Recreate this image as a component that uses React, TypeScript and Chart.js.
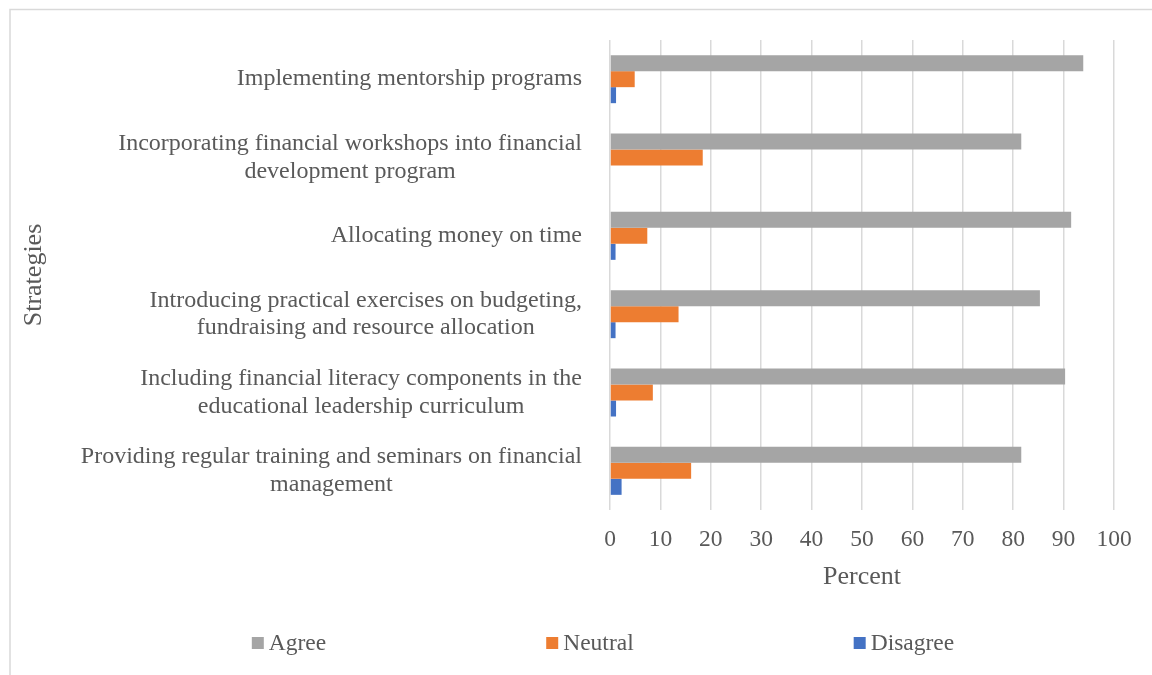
import React, { useEffect, useRef } from "react";
import { Chart, registerables } from "chart.js";

Chart.register(...registerables);

const categories: string[][] = [
  ["Implementing mentorship programs"],
  ["Incorporating financial workshops into financial", "development program"],
  ["Allocating money on time"],
  ["Introducing practical exercises on budgeting,", "fundraising and resource allocation"],
  ["Including financial literacy components in the", "educational leadership curriculum"],
  ["Providing regular training and seminars on financial", "management"],
];
const seriesNames = ["Agree", "Neutral", "Disagree"];
const agree = [93.9, 81.6, 91.5, 85.3, 90.3, 81.6];
const neutral = [4.9, 18.4, 7.4, 13.6, 8.5, 16.1];
const disagree = [1.2, 0, 1.1, 1.1, 1.2, 2.3];
const xTicks = [0, 10, 20, 30, 40, 50, 60, 70, 80, 90, 100];

const COLORS = ["#a5a5a5", "#ed7d31", "#4472c4"];
const TEXT = "#595959";
const FAMILY = '"Liberation Serif", "Times New Roman", serif';

const borderPlugin = {
  id: "frame",
  beforeDraw(chart: any) {
    const ctx = chart.ctx;
    ctx.save();
    ctx.fillStyle = "#ffffff";
    ctx.fillRect(0, 0, chart.width, chart.height);
    ctx.strokeStyle = "#d9d9d9";
    ctx.lineWidth = 1.5;
    ctx.strokeRect(10, 9.5, 3000, 3000);
    ctx.restore();
  },
};

const yLabelPlugin = {
  id: "yLabels",
  afterDraw(chart: any) {
    const ctx = chart.ctx;
    const yScale = chart.scales.y;
    const right = chart.chartArea.left - 28;
    const lineH = 27.5;
    ctx.save();
    ctx.font = `24px ${FAMILY}`;
    ctx.fillStyle = TEXT;
    ctx.textAlign = "center";
    ctx.textBaseline = "middle";
    categories.forEach((lines, i) => {
      const y = yScale.getPixelForValue(i);
      const w = Math.max(...lines.map((l) => ctx.measureText(l).width));
      const cx = right - w / 2;
      lines.forEach((l, j) => {
        ctx.fillText(l, cx, y + (j - (lines.length - 1) / 2) * lineH);
      });
    });
    ctx.restore();
  },
};

const legendPlugin = {
  id: "customLegend",
  afterDraw(chart: any) {
    const ctx = chart.ctx;
    const box = 12;
    const gapText = 5;
    const gapItem = 220;
    const centerX = 603;
    const cy = 643;
    ctx.save();
    ctx.font = `23.5px ${FAMILY}`;
    ctx.textBaseline = "middle";
    ctx.textAlign = "left";
    const items = chart.data.datasets.map((d: any) => ({
      text: d.label,
      color: d.backgroundColor,
      w: box + gapText + ctx.measureText(d.label).width,
    }));
    const total = items.reduce((s: number, it: any) => s + it.w, 0) + gapItem * (items.length - 1);
    let x = centerX - total / 2;
    items.forEach((it: any) => {
      ctx.fillStyle = it.color;
      ctx.fillRect(x, cy - box / 2, box, box);
      ctx.fillStyle = TEXT;
      ctx.fillText(it.text, x + box + gapText, cy + 1);
      x += it.w + gapItem;
    });
    ctx.restore();
  },
};

export default function App() {
  const ref = useRef<HTMLCanvasElement | null>(null);
  useEffect(() => {
    if (!ref.current) return;
    Chart.defaults.font.family = FAMILY;
    const chart = new Chart(ref.current, {
      type: "bar",
      data: {
        labels: categories.map((c) => c.join(" ")),
        datasets: [
          { label: seriesNames[0], data: agree, backgroundColor: COLORS[0] },
          { label: seriesNames[1], data: neutral, backgroundColor: COLORS[1] },
          { label: seriesNames[2], data: disagree, backgroundColor: COLORS[2] },
        ],
      },
      options: {
        indexAxis: "y",
        responsive: false,
        animation: false,
        maintainAspectRatio: false,
        layout: { padding: { top: 40, right: 38, bottom: 85, left: 0 } },
        datasets: { bar: { categoryPercentage: 0.613, barPercentage: 1 } },
        plugins: { legend: { display: false }, tooltip: { enabled: false }, title: { display: false } },
        scales: {
          x: {
            min: 0,
            max: 100,
            afterBuildTicks: (s: any) => {
              s.ticks = xTicks.map((v) => ({ value: v }));
            },
            afterFit: (s: any) => {
              s.height = 80;
            },
            ticks: { color: TEXT, font: { size: 23.5, family: FAMILY }, padding: 16 },
            grid: { color: "#d9d9d9", lineWidth: 1.5, drawTicks: false },
            border: { display: false },
            title: {
              display: true,
              text: "Percent",
              color: TEXT,
              font: { size: 26, family: FAMILY, lineHeight: 1 },
              padding: { top: 0, bottom: 0 },
            },
          },
          y: {
            afterFit: (s: any) => {
              s.width = 610;
            },
            ticks: { display: false },
            grid: { display: false },
            border: { display: false },
            title: {
              display: true,
              text: "Strategies",
              color: TEXT,
              font: { size: 26, family: FAMILY, lineHeight: 1 },
              padding: { top: 21, bottom: 0 },
            },
          },
        },
      },
      plugins: [borderPlugin, yLabelPlugin, legendPlugin],
    } as any);
    return () => chart.destroy();
  }, []);
  return (
    <div style={{ position: "fixed", left: 0, top: 0, width: 1152, height: 675, overflow: "hidden", background: "#fff" }}>
      <canvas ref={ref} width={1152} height={675} style={{ width: 1152, height: 675, display: "block" }} />
    </div>
  );
}
